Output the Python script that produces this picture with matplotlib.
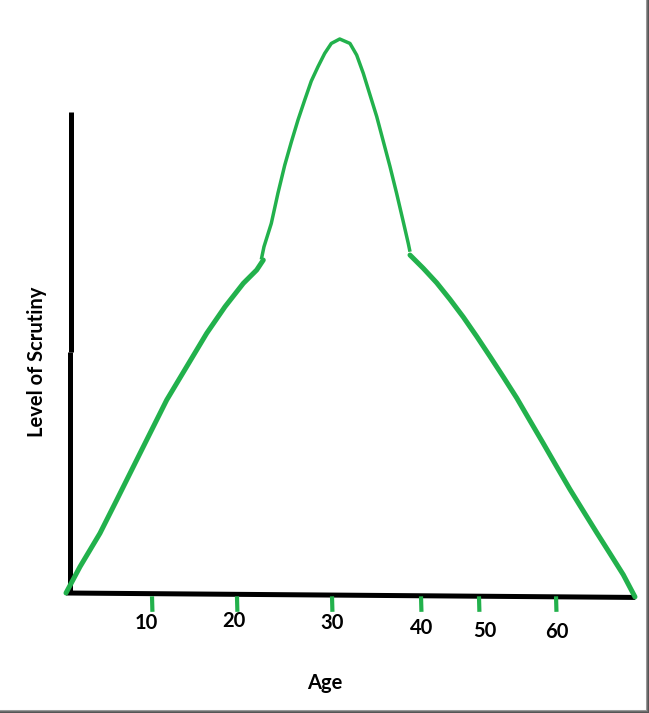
import matplotlib
matplotlib.use('Agg')
import matplotlib.pyplot as plt
from matplotlib.lines import Line2D

# hand drawn curve (age, level of scrutiny 0-100)
rise_age = [0.0, 1.63, 3.95, 5.90, 7.83, 9.77, 11.71, 14.03, 16.36, 18.49, 20.62, 22.17, 22.94]
rise_lvl = [0.0, 4.75, 10.78, 16.79, 22.80, 28.83, 34.84, 40.85, 46.88, 51.68, 55.90, 58.30, 60.1]

peak_age = [22.71, 23.02, 23.87, 24.65, 25.43, 26.20, 26.98, 27.76, 28.52, 29.30, 30.08, 30.85,
            31.83, 33.02, 33.80, 34.57, 35.35, 36.13, 36.90, 37.67, 38.45, 39.22, 39.80, 40.00]
peak_lvl = [60.2, 62.5, 66.7, 72.2, 77.2, 81.4, 85.4, 89.0, 92.4, 95.0, 97.4, 99.2,
            100.0, 99.2, 97.1, 93.8, 89.9, 86.0, 81.5, 77.0, 72.1, 67.0, 63.1, 61.6]

fall_age = [40.00, 41.55, 43.10, 44.65, 46.20, 47.76, 49.30, 50.85, 52.41, 53.95, 55.50,
            57.06, 58.60, 60.15, 61.71, 63.26, 64.80, 66.16]
fall_lvl = [61.0, 58.6, 56.0, 53.0, 49.8, 46.3, 42.7, 39.0, 35.2, 31.1, 27.0,
            22.8, 18.7, 14.8, 10.9, 7.1, 3.3, -0.7]

# tick marks drawn by hand, not evenly spaced
tick_age = [10.0, 19.88, 30.93, 41.28, 48.02, 56.98]
tick_labels = ['10', '20', '30', '40', '50', '60']
label_age = [9.3, 19.5, 30.9, 41.3, 48.7, 57.1]
label_lvl = [-5.5, -5.1, -5.5, -6.3, -6.9, -7.1]

green = '#22b14c'

fig = plt.figure(figsize=(6.49, 7.13), dpi=100)
ax = fig.add_axes([0, 0, 1, 1])
ax.set_xlim(-7.674, 67.79)
ax.set_ylim(-21.66, 107.04)
ax.axis('off')

# axes drawn as thick black strokes
ax.plot([0.45, 0.45], [0, 43.5], color='black', lw=3.6, solid_capstyle='butt')
ax.plot([0.6, 0.6], [43.5, 86.8], color='black', lw=3.6, solid_capstyle='butt')
ax.plot([0, 66.2], [0, -0.8], color='black', lw=3.6, solid_capstyle='butt')

for a in tick_age:
    ax.plot([a, a + 0.05], [-0.6, -3.4], color=green, lw=3, solid_capstyle='butt')

ax.plot(rise_age, rise_lvl, color=green, lw=3.6, solid_capstyle='round', solid_joinstyle='round')
ax.plot(peak_age, peak_lvl, color=green, lw=2.5, solid_capstyle='butt', solid_joinstyle='round')
ax.plot(fall_age, fall_lvl, color=green, lw=3.6, solid_capstyle='round', solid_joinstyle='round')

font = dict(family='Lato', weight='bold', size=14.5, color='black')
for x, y, t in zip(label_age, label_lvl, tick_labels):
    ax.text(x, y, t, ha='center', va='center', **font)
ax.text(30.15, -16.2, 'Age', ha='center', va='center', **font)
ax.text(-3.4, 41.7, 'Level of Scrutiny', ha='center', va='center', rotation=90, **font)

# grey shadow border on right and bottom
for i, c in enumerate(['#9a9a9a', '#6e6e6e', '#555555', '#7a7a7a']):
    fig.add_artist(Line2D([(645.5 + i) / 649] * 2, [0, 1], color=c, lw=0.75))
    fig.add_artist(Line2D([0, 1], [(3.5 - i) / 713] * 2, color=c, lw=0.75))

plt.savefig('out.png', dpi=100)
